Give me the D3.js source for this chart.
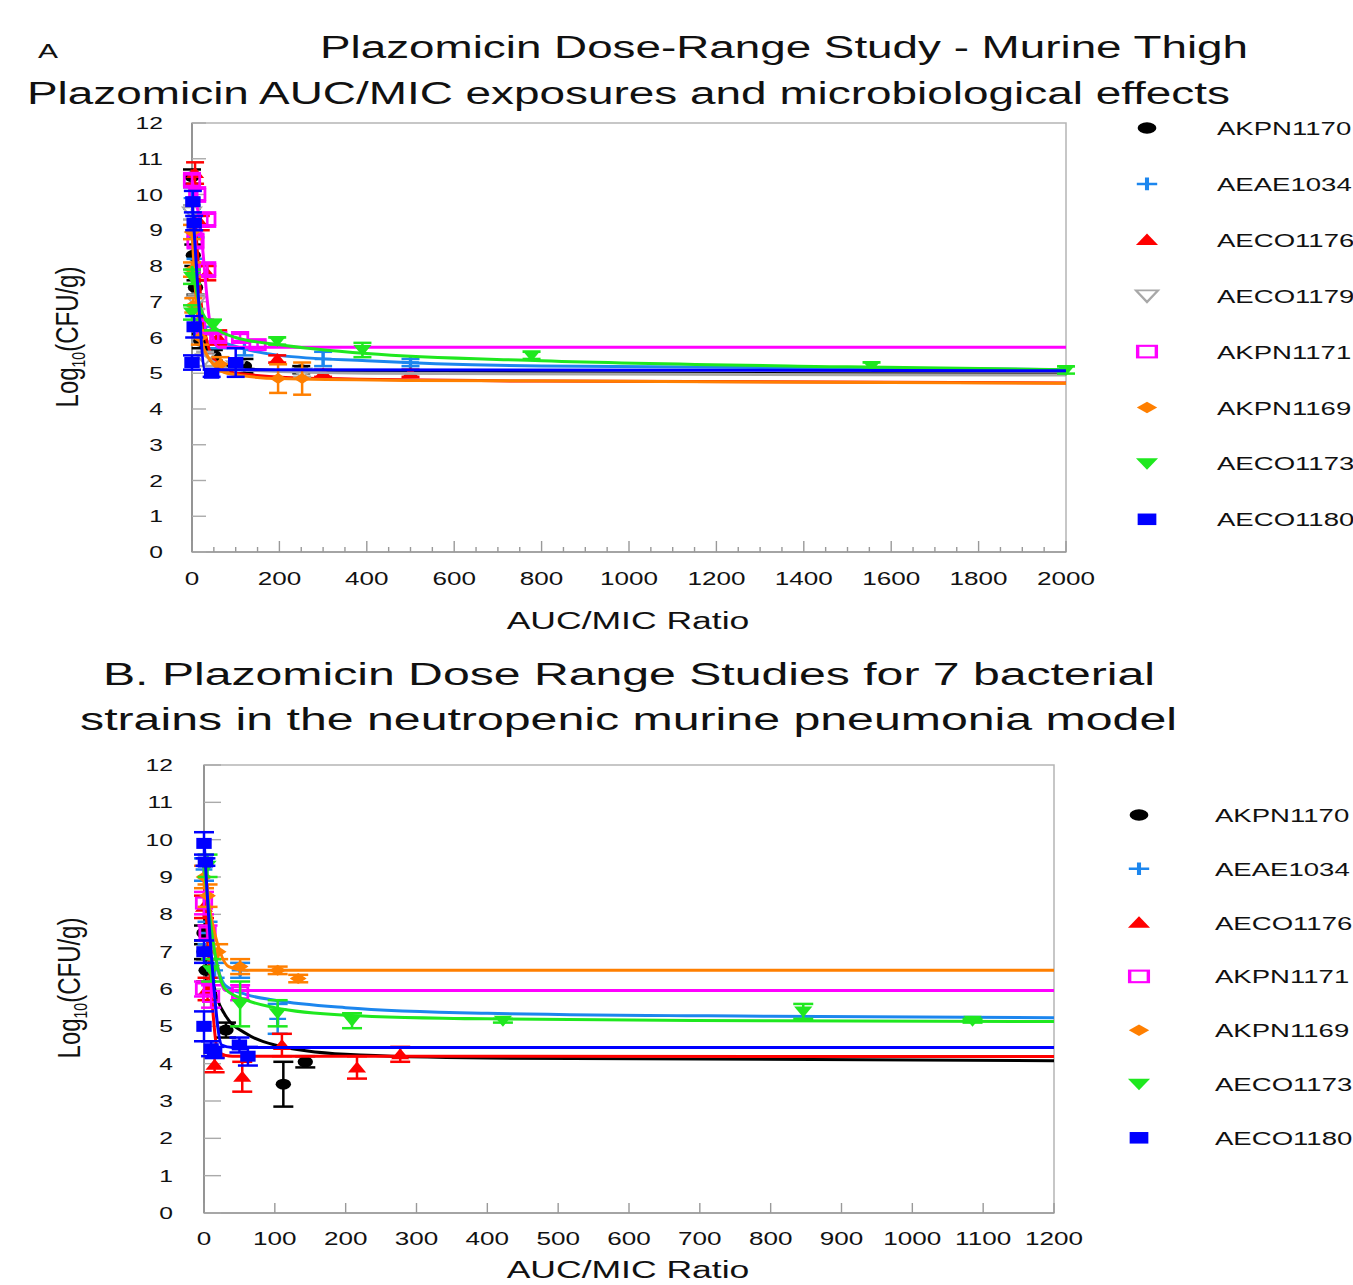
<!DOCTYPE html>
<html><head><meta charset="utf-8">
<script src="https://cdn.jsdelivr.net/npm/d3@7"></script>
<style>
html,body{margin:0;padding:0;background:#fff;overflow:hidden;}
svg{display:block;font-family:"Liberation Sans",Arial,sans-serif;}
</style></head>
<body>
<svg id="chart" width="1353" height="1285"></svg>
<script>
// ---------------- DATA ----------------
// Panel A (murine thigh) series names (legend order)
const seriesA = ["AKPN1170","AEAE1034","AECO1176","AECO1179","AKPN1171","AKPN1169","AECO1173","AECO1180"];
// Panel B (pneumonia) series names
const seriesB = ["AKPN1170","AEAE1034","AECO1176","AKPN1171","AKPN1169","AECO1173","AECO1180"];

// Tick labels
const yTickLabels = [0,1,2,3,4,5,6,7,8,9,10,11,12];
const xTickLabelsA = [0,200,400,600,800,1000,1200,1400,1600,1800,2000];
const xMinorTicksA = d3.range(0, 2001, 50);
const xTickLabelsB = [0,100,200,300,400,500,600,700,800,900,1000,1100,1200];

// Panel A observed points: [AUC/MIC, log10 CFU/g, SD]
const A_AKPN1170_pts = [[0,10.5,0.2],[3,8.3,0.3],[8,7.4,0.2],[20,5.9,0.2],[50,5.5,0.15],[120,5.2,0.2],[250,5.1,0.1]];
const A_AEAE1034_pts = [[0,9.9,0.3],[8,8.5,0.3],[25,6.3,0.2],[60,5.9,0.2],[120,5.7,0.2],[300,5.4,0.2],[500,5.3,0.1]];
const A_AECO1176_pts = [[7,10.6,0.3],[20,9.2,0.2],[35,7.8,0.2],[60,6.0,0.2],[195,5.4,0.1],[300,5.0,0.1],[500,5.0,0.1]];
const A_AECO1179_pts = [[0,9.5,0.2],[10,7.0,0.2],[30,5.4,0.2],[100,5.2,0.1],[252,5.0,0.1]];
const A_AKPN1171_pts = [[0,10.4,0.2],[12,10.0,0.2],[35,9.3,0.2],[8,8.7,0.2],[35,7.9,0.2],[30,6.3,0.2],[60,6.0,0.1],[110,6.0,0.1],[150,5.8,0.1]];
const A_AKPN1169_pts = [[0,8.95,0.2],[0,7.9,0.2],[3,6.9,0.2],[18,6.0,0.2],[65,5.25,0.2],[197,4.85,0.4],[252,4.85,0.45]];
const A_AECO1173_pts = [[0,7.7,0.2],[0,6.7,0.2],[48,6.35,0.15],[195,5.9,0.1],[390,5.65,0.2],[777,5.5,0.1],[1555,5.2,0.1],[2000,5.09,0.1]];
const A_AECO1180_pts = [[2,9.8,0.3],[5,9.2,0.2],[5,6.3,0.3],[0,5.3,0.2],[45,5.0,0.1],[100,5.3,0.4]];

// Panel A fitted curves: [AUC/MIC, log10 CFU/g]
const A_AKPN1170_fit = [[0,10.5],[5,9.0],[15,6.8],[30,5.8],[60,5.3],[150,5.1],[400,5.03],[2000,4.98]];
const A_AEAE1034_fit = [[0,10.0],[10,8.0],[25,6.4],[50,6.0],[100,5.75],[200,5.5],[400,5.35],[800,5.2],[2000,5.1]];
const A_AECO1176_fit = [[0,10.7],[10,8.8],[25,6.5],[50,5.4],[100,5.0],[300,4.85],[800,4.78],[2000,4.73]];
const A_AECO1179_fit = [[0,9.6],[10,7.5],[30,5.5],[100,5.1],[400,5.0],[2000,4.95]];
const A_AKPN1171_fit = [[0,10.4],[20,9.0],[40,6.5],[60,5.73],[2000,5.73]];
const A_AKPN1169_fit = [[0,9.0],[10,7.0],[30,5.6],[80,5.0],[200,4.85],[500,4.8],[2000,4.72]];
const A_AECO1173_fit = [[0,8.0],[20,6.8],[50,6.3],[100,6.0],[200,5.8],[400,5.55],[800,5.35],[1500,5.18],[2000,5.1]];
const A_AECO1180_fit = [[0,9.9],[10,8.0],[30,5.1],[2000,5.07]];

// Panel B observed points
const B_AKPN1170_pts = [[0,7.5,0.2],[0,7.0,0.2],[3,6.5,0.3],[31,4.9,0.2],[112,3.45,0.6],[143,4.05,0.15]];
const B_AEAE1034_pts = [[0,9.2,0.3],[5,7.5,0.3],[15,6.5,0.2],[51,6.5,0.2],[104,5.2,0.4]];
const B_AECO1176_pts = [[0,8.2,0.3],[5,6.0,0.3],[15,3.97,0.2],[54,3.65,0.4],[110,4.5,0.3],[216,3.9,0.3],[277,4.25,0.2]];
const B_AKPN1171_pts = [[0,8.3,0.3],[5,7.5,0.2],[0,6.0,0.2],[10,5.8,0.3],[51,5.9,0.2]];
const B_AKPN1169_pts = [[0,9.0,0.3],[5,8.5,0.3],[20,7.0,0.2],[51,6.6,0.2],[104,6.5,0.1],[133,6.28,0.1]];
const B_AECO1173_pts = [[5,9.3,0.3],[10,6.5,0.3],[51,5.6,0.6],[104,5.35,0.35],[209,5.15,0.2],[422,5.15,0.05],[846,5.4,0.2],[1085,5.15,0.05]];
const B_AECO1180_pts = [[0,9.9,0.3],[2,9.4,0.1],[0,7.0,0.3],[0,5.0,0.4],[10,4.4,0.2],[15,4.3,0.15],[50,4.5,0.2],[62,4.2,0.25]];

// Panel B fitted curves
const B_AKPN1170_fit = [[0,8.0],[15,6.0],[30,5.3],[60,4.8],[100,4.5],[200,4.25],[400,4.15],[1200,4.08]];
const B_AEAE1034_fit = [[0,9.5],[15,7.0],[30,6.1],[60,5.85],[100,5.7],[200,5.5],[400,5.35],[800,5.27],[1200,5.23]];
const B_AECO1176_fit = [[0,9.0],[10,6.0],[20,4.3],[40,4.2],[1200,4.19]];
const B_AKPN1171_fit = [[0,9.0],[15,7.0],[30,5.96],[1200,5.96]];
const B_AKPN1169_fit = [[0,9.0],[15,7.5],[35,6.6],[60,6.5],[1200,6.5]];
const B_AECO1173_fit = [[0,9.3],[15,7.0],[30,6.0],[60,5.7],[100,5.5],[200,5.3],[400,5.2],[800,5.15],[1200,5.13]];
const B_AECO1180_fit = [[0,10.0],[10,7.0],[25,4.5],[40,4.43],[1200,4.43]];

// ---------------- STYLE ----------------
const styleByName = {
  AKPN1170:{color:"#000000", shape:"circle"},
  AEAE1034:{color:"#1c86ee", shape:"plus"},
  AECO1176:{color:"#ff0000", shape:"triUp"},
  AECO1179:{color:"#a8a8a8", shape:"triDownOpen"},
  AKPN1171:{color:"#ff00ff", shape:"squareOpen"},
  AKPN1169:{color:"#ff7f00", shape:"diamond"},
  AECO1173:{color:"#1fe81f", shape:"triDown"},
  AECO1180:{color:"#0000ff", shape:"square"}
};
const SX = 1.45; // horizontal text stretch seen in the picture

const svg = d3.select("#chart");

function stretchedText(g, x, y, str, size, anchor, weight){
  return g.append("text")
    .attr("transform", `translate(${x},${y}) scale(${SX},1)`)
    .attr("text-anchor", anchor || "start")
    .attr("font-size", size)
    .attr("font-weight", weight || "normal")
    .attr("fill", "#111")
    .text(str);
}
function fittedText(x, y, str, size, len){
  svg.append("text").attr("x", x).attr("y", y)
    .attr("font-size", size).attr("fill", "#111")
    .attr("textLength", len).attr("lengthAdjust", "spacingAndGlyphs")
    .text(str);
}

function drawMarker(g, shape, color, cx, cy, sx, sy){
  const m = g.append("g").attr("transform", `translate(${cx},${cy}) scale(${sx},${sy})`);
  switch(shape){
    case "circle": m.append("circle").attr("r",5.5).attr("fill",color); break;
    case "plus": m.append("path").attr("d","M-6,0H6M0,-6V6").attr("stroke",color).attr("stroke-width",2.4).attr("fill","none"); break;
    case "triUp": m.append("path").attr("d","M0,-6L6.5,5L-6.5,5Z").attr("fill",color); break;
    case "triDown": m.append("path").attr("d","M0,6L6.5,-5L-6.5,-5Z").attr("fill",color); break;
    case "triDownOpen": m.append("path").attr("d","M0,6L6.5,-5L-6.5,-5Z").attr("fill","#fff").attr("stroke",color).attr("stroke-width",1.6); break;
    case "squareOpen": m.append("rect").attr("x",-5.5).attr("y",-5.5).attr("width",11).attr("height",11).attr("fill","none").attr("stroke",color).attr("stroke-width",2); break;
    case "square": m.append("rect").attr("x",-5.5).attr("y",-5.5).attr("width",11).attr("height",11).attr("fill",color); break;
    case "diamond": m.append("path").attr("d","M0,-5.5L6,0L0,5.5L-6,0Z").attr("fill",color); break;
  }
}

function drawPanel(cfg){
  const g = svg.append("g");
  const x = d3.scaleLinear().domain(cfg.xDomain).range([cfg.left, cfg.right]);
  const y = d3.scaleLinear().domain([0,12]).range([cfg.bottom, cfg.top]);

  // frame
  g.append("rect").attr("x",cfg.left).attr("y",cfg.top)
    .attr("width",cfg.right-cfg.left).attr("height",cfg.bottom-cfg.top)
    .attr("fill","none").attr("stroke","#b5b5b5").attr("stroke-width",1.5);
  g.append("line").attr("x1",cfg.left).attr("x2",cfg.left).attr("y1",cfg.top).attr("y2",cfg.bottom)
    .attr("stroke","#888").attr("stroke-width",1.6);
  g.append("line").attr("x1",cfg.left).attr("x2",cfg.right).attr("y1",cfg.bottom).attr("y2",cfg.bottom)
    .attr("stroke","#999").attr("stroke-width",1.6);

  // y ticks (inward) and labels
  yTickLabels.forEach(v=>{
    g.append("line").attr("x1",cfg.left).attr("x2",cfg.left+cfg.yTickLen)
      .attr("y1",y(v)).attr("y2",y(v)).attr("stroke","#aaa").attr("stroke-width",1.4);
    stretchedText(g, cfg.yLabelX, y(v)+6, String(v), 17, "end");
  });
  // x ticks
  cfg.xMinor.forEach(v=>{
    const major = cfg.xMajor.includes(v);
    g.append("line").attr("x1",x(v)).attr("x2",x(v))
      .attr("y1",cfg.bottom).attr("y2",cfg.bottom-(major?cfg.xMajorLen:cfg.xMinorLen))
      .attr("stroke","#999").attr("stroke-width",1.4);
  });
  cfg.xMajor.forEach(v=>{
    stretchedText(g, x(v), cfg.xLabelY, String(v), 18, "middle");
  });

  // axis titles
  stretchedText(g, cfg.xTitleX, cfg.xTitleY, "AUC/MIC Ratio", 24.5, "middle");
  const yt = g.append("text")
    .attr("transform", `translate(${cfg.yTitleX},${cfg.yTitleY}) scale(1.3,1) rotate(-90)`)
    .attr("text-anchor","middle").attr("font-size",24).attr("fill","#111");
  yt.append("tspan").text("Log");
  yt.append("tspan").attr("font-size",14).attr("dy",5).text("10");
  yt.append("tspan").attr("dy",-5).text("(CFU/g)");

  const line = d3.line().x(d=>x(d[0])).y(d=>y(d[1])).curve(d3.curveMonotoneX);

  cfg.names.forEach((name,i)=>{
    const st = styleByName[name];
    const pts = cfg.pts[i], fit = cfg.fits[i];
    const sg = g.append("g");
    pts.forEach(p=>{
      const px = x(p[0]), hi = y(p[1]+p[2]), lo = y(p[1]-p[2]);
      sg.append("line").attr("x1",px).attr("x2",px).attr("y1",hi).attr("y2",lo)
        .attr("stroke",st.color).attr("stroke-width",2.5);
      [hi,lo].forEach(yy=>sg.append("line").attr("x1",px-cfg.cap).attr("x2",px+cfg.cap)
        .attr("y1",yy).attr("y2",yy).attr("stroke",st.color).attr("stroke-width",2.5));
      drawMarker(sg, st.shape, st.color, px, y(p[1]), 1.4, 1);
    });
    sg.append("path").datum(fit).attr("d",line)
      .attr("fill","none").attr("stroke",st.color).attr("stroke-width",3);
  });

  // legend
  cfg.names.forEach((name,i)=>{
    const st = styleByName[name];
    const ly = cfg.legY0 + i*cfg.legStep;
    drawMarker(g, st.shape, st.color, cfg.legMarkX, ly, 1.7, 1.05);
    stretchedText(g, cfg.legTextX, ly+7, name, 19, "start");
  });
}

// ---------------- TITLES ----------------
fittedText(38, 58, "A", 20, 20);
fittedText(320, 58, "Plazomicin Dose-Range Study - Murine Thigh", 31, 928);
fittedText(27, 104, "Plazomicin AUC/MIC exposures and microbiological effects", 31, 1203);
fittedText(103, 685, "B. Plazomicin Dose Range Studies for 7 bacterial", 31, 1052);
fittedText(80, 730, "strains in the neutropenic murine pneumonia model", 31, 1097);

// ---------------- PANELS ----------------
drawPanel({
  xDomain:[0,2000], left:192, right:1066, top:123, bottom:552,
  xMajor:xTickLabelsA, xMinor:xMinorTicksA, xMajorLen:11, xMinorLen:5,
  yTickLen:14, yLabelX:163, xLabelY:585, xTitleX:628, xTitleY:629,
  yTitleX:78, yTitleY:337, cap:9,
  names:seriesA,
  pts:[A_AKPN1170_pts,A_AEAE1034_pts,A_AECO1176_pts,A_AECO1179_pts,A_AKPN1171_pts,A_AKPN1169_pts,A_AECO1173_pts,A_AECO1180_pts],
  fits:[A_AKPN1170_fit,A_AEAE1034_fit,A_AECO1176_fit,A_AECO1179_fit,A_AKPN1171_fit,A_AKPN1169_fit,A_AECO1173_fit,A_AECO1180_fit],
  legMarkX:1147, legTextX:1217, legY0:128, legStep:55.9
});
drawPanel({
  xDomain:[0,1200], left:204, right:1054, top:765, bottom:1213,
  xMajor:xTickLabelsB, xMinor:xTickLabelsB, xMajorLen:10, xMinorLen:10,
  yTickLen:17, yLabelX:173, xLabelY:1245, xTitleX:628, xTitleY:1278,
  yTitleX:80, yTitleY:988, cap:10,
  names:seriesB,
  pts:[B_AKPN1170_pts,B_AEAE1034_pts,B_AECO1176_pts,B_AKPN1171_pts,B_AKPN1169_pts,B_AECO1173_pts,B_AECO1180_pts],
  fits:[B_AKPN1170_fit,B_AEAE1034_fit,B_AECO1176_fit,B_AKPN1171_fit,B_AKPN1169_fit,B_AECO1173_fit,B_AECO1180_fit],
  legMarkX:1139, legTextX:1215, legY0:815, legStep:53.8
});
</script>
</body></html>
